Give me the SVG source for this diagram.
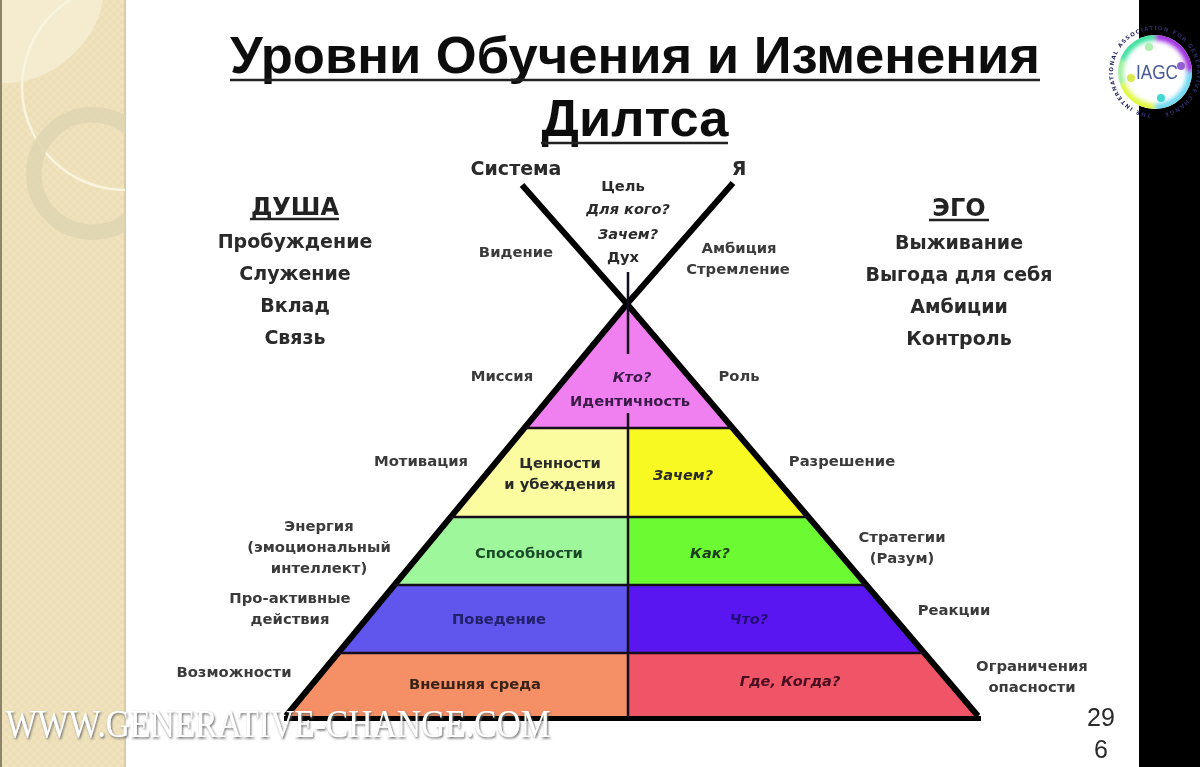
<svg xmlns="http://www.w3.org/2000/svg" width="1200" height="767" viewBox="0 0 1200 767">
<style>
text{font-family:"DejaVu Sans",Verdana,sans-serif;font-weight:700;fill:#2a2a2a;text-anchor:middle}
.t{font-family:"Liberation Sans",Arial,sans-serif;font-size:52px;fill:#111}
.h{font-size:19px;fill:#2a2a2a}
.u{font-size:24px;fill:#222}
.m{font-size:14.700px}
.s{font-size:14.800px;fill:#3a3a3a}
.i{font-style:italic;font-size:14.500px}
.e{stroke:#000;stroke-width:6;stroke-linecap:butt;fill:none}
.b{stroke:#14101e;stroke-width:2.500;fill:none}
</style>
<defs>
<pattern id="dots" width="8" height="8" patternUnits="userSpaceOnUse"><rect width="8" height="8" fill="#ecdeb6"/><rect width="4" height="4" fill="#efe2bd"/><rect x="4" y="4" width="4" height="4" fill="#efe2bd"/></pattern>
<filter id="soft" x="-2%" y="-2%" width="104%" height="104%"><feGaussianBlur stdDeviation="0.6"/></filter>
<filter id="glow" x="-20%" y="-20%" width="140%" height="140%"><feGaussianBlur stdDeviation="2"/></filter>
<filter id="shadow" x="-5%" y="-30%" width="110%" height="170%"><feDropShadow dx="1" dy="1.500" stdDeviation="1" flood-color="#666"/></filter>
<clipPath id="side"><rect x="0" y="0" width="125" height="767"/></clipPath>
<clipPath id="disc"><circle cx="1155" cy="72" r="37"/></clipPath>
<path id="ring" d="M1155 114A42 42 0 1 1 1155 30A42 42 0 1 1 1155 114"/>
</defs>
<g id="background">
<rect width="1200" height="767" fill="#fff"/>
<rect x="0" y="0" width="126" height="767" fill="url(#dots)"/>
<rect x="0" y="0" width="2" height="767" fill="#8b8468"/>
<rect x="124" y="0" width="2" height="767" fill="#d8cca8"/>
<rect x="1139" y="0" width="61" height="767" fill="#000"/>
<g clip-path="url(#side)" fill="none">
<path d="M2 83C50 85 96 45 103 0L2 0Z" fill="#f5ecd0"/>
<circle cx="125" cy="87" r="103" stroke="#f9f4de" stroke-width="2.500"/>
<circle cx="92.500" cy="173.500" r="58.700" stroke="#dfd5b2" stroke-width="15.500" opacity="0.85"/>
</g>
</g>
<g filter="url(#soft)">
<g id="title">
<text class="t" x="635" y="73" textLength="810" lengthAdjust="spacingAndGlyphs">Уровни Обучения и Изменения</text>
<text class="t" x="635" y="136" textLength="187" lengthAdjust="spacingAndGlyphs">Дилтса</text>
<path d="M230 80H1040M541 143H728" stroke="#222" stroke-width="2.500"/>
</g>
<g id="pyramid-bands">
<g id="band-identity"><path d="M627 304L525 428H733Z" fill="#f080f0"/></g>
<g id="band-values"><path d="M525 428H628V517H451Z" fill="#fbfba0"/><path d="M628 428H733L809 517H628Z" fill="#f8f820"/></g>
<g id="band-capabilities"><path d="M451 517H628V585H394Z" fill="#9ef79a"/><path d="M628 517H809L867 585H628Z" fill="#6cfb32"/></g>
<g id="band-behavior"><path d="M394 585H628V653H339Z" fill="#6055ec"/><path d="M628 585H867L925 653H628Z" fill="#5a18f0"/></g>
<g id="band-environment"><path d="M339 653H628V717H285Z" fill="#f48f66"/><path d="M628 653H925L980 717H628Z" fill="#ef5566"/></g>
</g>
<g id="connectors">
<path class="e" d="M522 185L627 304M733 183L627 304M627 304L286 716M627 304L978 716"/>
<path class="b" d="M526 428H733M451 517H809M394 585H867M339 653H925"/>
<path d="M284 718.500H981" stroke="#000" stroke-width="5"/>
<path d="M628 272V354M628 413V718" stroke="#14101e" stroke-width="2.500" fill="none"/>
</g>
<g id="labels-top">
<text class="h" x="516" y="175">Система</text>
<text class="h" x="739" y="175">Я</text>
<text class="m" x="623" y="191">Цель</text>
<text class="m i" x="628" y="214">Для кого?</text>
<text class="m i" x="628" y="239">Зачем?</text>
<text class="m" x="623" y="262">Дух</text>
<text class="s" x="516" y="257">Видение</text>
<text class="s" x="739" y="253">Амбиция</text>
<text class="s" x="738" y="274">Стремление</text>
</g>
<g id="soul">
<text class="u" x="295" y="215">ДУША</text>
<path d="M250 219H339" stroke="#222" stroke-width="2.500"/>
<text class="h" x="295" y="248">Пробуждение</text>
<text class="h" x="295" y="280">Служение</text>
<text class="h" x="295" y="312">Вклад</text>
<text class="h" x="295" y="344">Связь</text>
</g>
<g id="ego">
<text class="u" x="959" y="216">ЭГО</text>
<path d="M929 220H989" stroke="#222" stroke-width="2.500"/>
<text class="h" x="959" y="249">Выживание</text>
<text class="h" x="959" y="281">Выгода для себя</text>
<text class="h" x="959" y="313">Амбиции</text>
<text class="h" x="959" y="345">Контроль</text>
</g>
<g id="labels-left">
<text class="s" x="502" y="381">Миссия</text>
<text class="s" x="421" y="466">Мотивация</text>
<text class="s" x="319" y="531">Энергия</text>
<text class="s" x="319" y="552">(эмоциональный</text>
<text class="s" x="319" y="573">интеллект)</text>
<text class="s" x="290" y="603">Про-активные</text>
<text class="s" x="290" y="624">действия</text>
<text class="s" x="234" y="677">Возможности</text>
</g>
<g id="labels-right">
<text class="s" x="739" y="381">Роль</text>
<text class="s" x="842" y="466">Разрешение</text>
<text class="s" x="902" y="542">Стратегии</text>
<text class="s" x="902" y="563">(Разум)</text>
<text class="s" x="954" y="615">Реакции</text>
<text class="s" x="1032" y="671">Ограничения</text>
<text class="s" x="1032" y="692">опасности</text>
</g>
<g id="labels-bands">
<text class="i" x="632" y="382" style="fill:#3a1a4a">Кто?</text>
<text class="m" x="630" y="406" style="fill:#3a1a4a">Идентичность</text>
<text class="m" x="560" y="468">Ценности</text>
<text class="m" x="560" y="489">и убеждения</text>
<text class="i" x="683" y="480">Зачем?</text>
<text class="m" x="529" y="558" style="fill:#1a4a2a">Способности</text>
<text class="i" x="710" y="558" style="fill:#1a3a1a">Как?</text>
<text class="m" x="499" y="624" style="fill:#20206a">Поведение</text>
<text class="i" x="749" y="624" style="fill:#241078">Что?</text>
<text class="m" x="475" y="689" style="fill:#3a2218">Внешняя среда</text>
<text class="i" x="790" y="686" style="fill:#4a1020">Где, Когда?</text>
</g>
<g id="page-number">
<text x="1101" y="726" style="font-family:'Liberation Sans',sans-serif;font-size:25px;font-weight:400">29</text>
<text x="1101" y="758" style="font-family:'Liberation Sans',sans-serif;font-size:25px;font-weight:400">6</text>
</g>
<g id="logo">
<circle cx="1155" cy="72" r="37" fill="#fff"/>
<g clip-path="url(#disc)" filter="url(#glow)" fill="none" stroke-width="9">
<path d="M1121 60A36 36 0 0 1 1155 36" stroke="#40e0a0"/>
<path d="M1155 36A36 36 0 0 1 1191 72" stroke="#a030e0"/>
<path d="M1191 72A36 36 0 0 1 1155 108" stroke="#70d8f0"/>
<path d="M1155 108A36 36 0 0 1 1121 84" stroke="#e0f840"/>
<path d="M1121 84A36 36 0 0 1 1121 60" stroke="#a0f0a0"/>
</g>
<circle cx="1149" cy="47" r="4" fill="#b0f0b0"/><circle cx="1181" cy="66" r="4" fill="#9060d0"/><circle cx="1161" cy="98" r="4" fill="#40d8d0"/><circle cx="1131" cy="78" r="4" fill="#d8e850"/>
<text x="1157" y="79" textLength="42" lengthAdjust="spacingAndGlyphs" style="font-family:'Liberation Sans',sans-serif;font-size:20px;fill:#4a5a98;font-weight:400">IAGC</text>
<text textLength="250" style="font-size:5.500px;fill:#2e2c68;text-anchor:start"><textPath href="#ring" startOffset="4">THE INTERNATIONAL ASSOCIATION FOR GENERATIVE CHANGE</textPath></text>
</g>
</g>
<g id="watermark">
<text x="278" y="737" filter="url(#shadow)" textLength="545" lengthAdjust="spacingAndGlyphs" style="font-family:'Liberation Serif',serif;font-size:40px;font-weight:400;fill:#fff">WWW.GENERATIVE-CHANGE.COM</text>
</g>
</svg>
